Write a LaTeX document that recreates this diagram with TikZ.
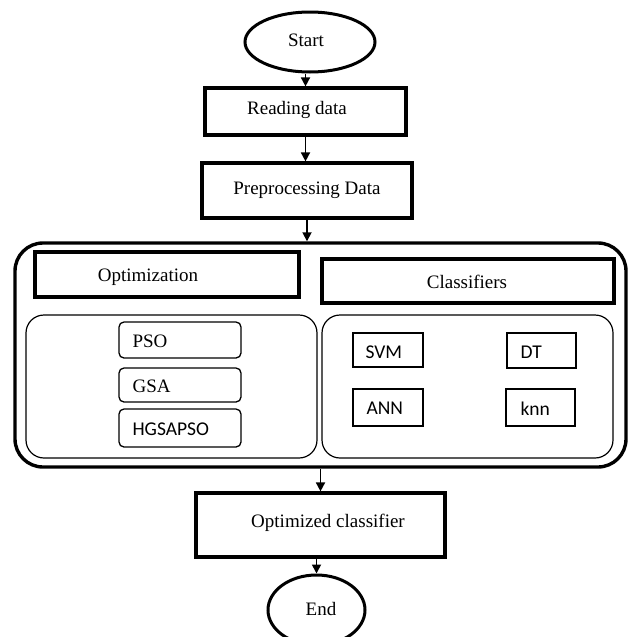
\documentclass[tikz,border=0pt]{standalone}
\usepackage{fontspec}
\setmainfont{Liberation Serif}
\newfontfamily\carl{Carlito}
\usetikzlibrary{arrows.meta,shapes.geometric}
\begin{document}
\begin{tikzpicture}[x=1pt,y=-1pt,
  thickbox/.style={draw, line width=3.2pt, rectangle, inner sep=0pt},
  thinbox/.style={draw, line width=1.4pt, rectangle, inner sep=0pt},
  rthin/.style={draw, line width=1.3pt, rectangle, rounded corners=5pt, inner sep=0pt},
  grp/.style={draw, line width=1.2pt, rectangle, rounded corners=18pt, inner sep=0pt},
  term/.style={draw, ellipse, line width=3pt, inner sep=0pt},
  serif/.style={font=\fontsize{19}{22}\selectfont, inner sep=0pt},
  sans/.style={font=\carl\fontsize{19.5}{22}\selectfont, inner sep=0pt},
  arr/.style={-{Triangle[length=9pt,width=9pt]}, line width=1.7pt}
]
\useasboundingbox (0,0) rectangle (631,637);
\clip (0,0) rectangle (631,637);
\fill[white] (0,0) rectangle (631,637);

% terminals and main boxes
\node[term, minimum width=130pt, minimum height=60pt] (start) at (310,42) {};
\node[serif] (startt) at (306,40) {Start};

\node[thickbox, minimum width=201pt, minimum height=47pt] (read) at (305.5,111.5) {};
\node[serif] (readt) at (297,110) {Reading data};

\node[thickbox, minimum width=210pt, minimum height=55pt] (pre) at (307,190.5) {};
\node[serif] (pret) at (307,190) {Preprocessing Data};

% outer container
\node[draw, line width=3.4pt, rectangle, rounded corners=28pt, inner sep=0pt,
      minimum width=611pt, minimum height=224pt] (outer) at (320.5,355) {};

\node[thickbox, minimum width=264pt, minimum height=45pt] (optim) at (167,274.5) {};
\node[serif] (optimt) at (148,277) {Optimization};

\node[thickbox, minimum width=292pt, minimum height=44pt] (cls) at (468,281) {};
\node[serif] (clst) at (467,282) {Classifiers};

\node[grp, minimum width=291pt, minimum height=143pt] (gleft) at (171.5,386.5) {};
\node[grp, minimum width=291pt, minimum height=143pt] (gright) at (467.5,386.5) {};

% optimization methods
\node[rthin, minimum width=122pt, minimum height=36pt] (pso) at (180,340) {};
\node[serif, anchor=west] (psot) at ([xshift=14pt,yshift=-1pt]pso.west) {PSO};
\node[rthin, minimum width=122pt, minimum height=34pt] (gsa) at (180,385) {};
\node[serif, anchor=west] (gsat) at ([xshift=14pt,yshift=-1pt]gsa.west) {GSA};
\node[rthin, minimum width=122pt, minimum height=38pt] (hyb) at (180,428) {};
\node[sans, anchor=west] (hybt) at ([xshift=14pt,yshift=-1pt]hyb.west) {HGSAPSO};

% classifiers
\node[thinbox, minimum width=70pt, minimum height=34pt] (svm) at (388,350) {};
\node[sans, anchor=west] (svmt) at ([xshift=13pt,yshift=-2pt]svm.west) {SVM};
\node[thinbox, minimum width=69pt, minimum height=35pt] (dt) at (541.5,350.5) {};
\node[sans, anchor=west] (dtt) at ([xshift=14pt,yshift=-2pt]dt.west) {DT};
\node[thinbox, minimum width=70pt, minimum height=37pt] (ann) at (388,407.5) {};
\node[sans, anchor=west] (annt) at ([xshift=14pt,yshift=-1pt]ann.west) {ANN};
\node[thinbox, minimum width=69pt, minimum height=37pt] (knn) at (540.5,407.5) {};
\node[sans, anchor=west] (knnt) at ([xshift=15pt,yshift=-1pt]knn.west) {knn};

% result and end
\node[thickbox, minimum width=249pt, minimum height=64pt] (oc) at (320.5,525) {};
\node[serif] (oct) at (328,523) {Optimized classifier};

\node[term, minimum width=97pt, minimum height=70pt] (endn) at (316.5,610) {};
\node[serif] (endt) at (321,609) {End};

% connectors
\draw[arr] (start.south -| read.north) -- (read.north);
\draw[arr] (read.south) -- (read.south |- pre.north);
\draw[arr] (pre.south) -- (pre.south |- outer.north);
\draw[arr] (outer.south) -- (oc.north);
\draw[arr] (oc.south -| endn.north) -- (endn.north);
\end{tikzpicture}
\end{document}
